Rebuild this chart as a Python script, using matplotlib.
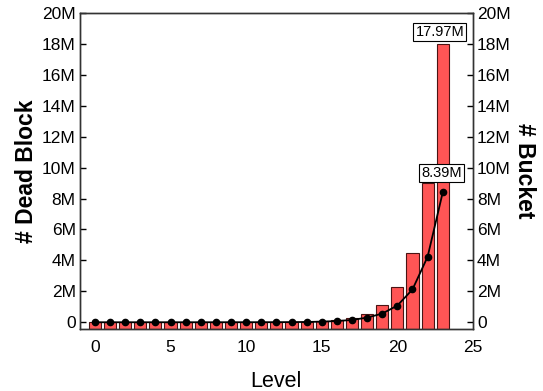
import numpy as np
import matplotlib.pyplot as plt
from matplotlib.ticker import FuncFormatter

plt.rcParams['font.family'] = ['Liberation Sans', 'DejaVu Sans']

levels = np.arange(24)
dead_block = [0.0005, 0.0005, 0.0005, 0.0005, 0.001, 0.001, 0.002, 0.003,
              0.004, 0.005, 0.007, 0.009, 0.012, 0.018, 0.035, 0.07,
              0.14, 0.28, 0.56, 1.12, 2.25, 4.49, 8.99, 17.97]
bucket = [0.0002, 0.0002, 0.0003, 0.0004, 0.0005, 0.0006, 0.0008, 0.001,
          0.0015, 0.002, 0.003, 0.004, 0.006, 0.01, 0.02, 0.04,
          0.08, 0.15, 0.30, 0.56, 1.08, 2.12, 4.23, 8.39]

ymin, ymax = -0.45, 20
xlabel = "Level"
ylabel_left = "# Dead Block"
ylabel_right = "# Bucket"

def mfmt(v, pos):
    return "0" if abs(v) < 1e-9 else "%dM" % round(v)

fig = plt.figure(figsize=(5.43, 3.91), dpi=100)
ax = fig.add_axes([0.147, 0.158, 0.724, 0.809])
ax2 = ax.twinx()

heights = [v - ymin for v in dead_block]
ax.bar(levels, heights, bottom=ymin, width=0.8, color='#ff5555',
       edgecolor='#4a1414', linewidth=0.8, zorder=2)
ax2.plot(levels, bucket, color='black', marker='o', markersize=4.5, linewidth=1.3, zorder=3)

for a in (ax, ax2):
    a.set_ylim(ymin, ymax)
    a.set_yticks(np.arange(0, 21, 2))
    a.yaxis.set_major_formatter(FuncFormatter(mfmt))
    a.tick_params(axis='y', direction='in', length=4, width=1, labelsize=12.5, pad=3)
    for s in a.spines.values():
        s.set_linewidth(1.0)
        s.set_color('#333333')

ax.set_xlim(-1, 25)
ax.set_xticks([0, 5, 10, 15, 20, 25])
ax.tick_params(axis='x', length=0, labelsize=12.5, pad=8)

ax.set_xlabel(xlabel, fontsize=15.5, labelpad=11)
ax.set_ylabel(ylabel_left, fontsize=16.5, fontweight='bold', labelpad=3)
ax2.set_ylabel(ylabel_right, fontsize=16.5, fontweight='bold', rotation=270, labelpad=18)

box = dict(boxstyle='square,pad=0.15', facecolor='white', edgecolor='black', linewidth=0.8)
ax.annotate("%.2fM" % dead_block[-1], (levels[-1], dead_block[-1]), xytext=(-2, 4),
            textcoords='offset points', ha='center', va='bottom', fontsize=10.5, bbox=box, zorder=5)
ax2.annotate("%.2fM" % bucket[-1], (levels[-1], bucket[-1]), xytext=(-1, 9),
             textcoords='offset points', ha='center', va='bottom', fontsize=10.5, bbox=box, zorder=5)

fig.savefig("out.png", dpi=100)
